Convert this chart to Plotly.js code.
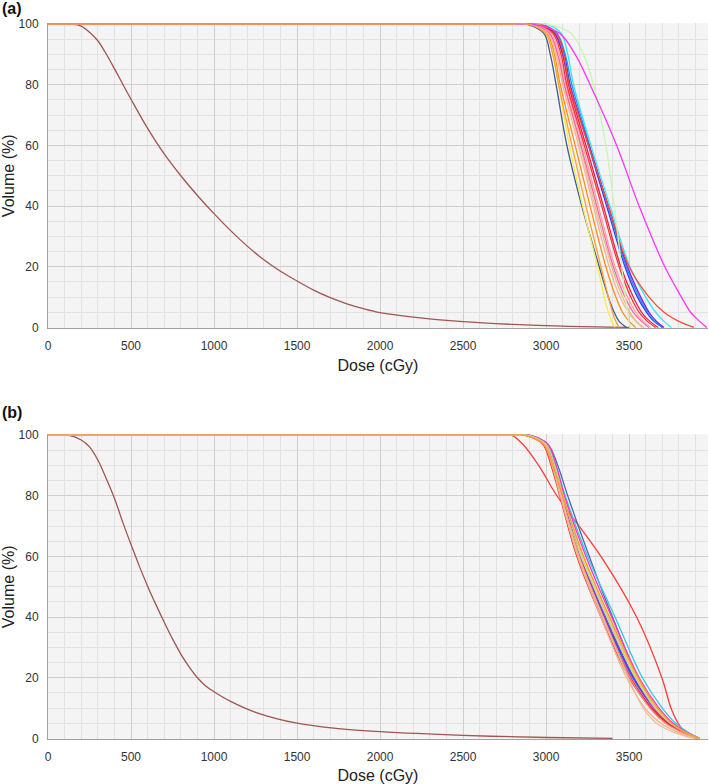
<!DOCTYPE html>
<html><head><meta charset="utf-8">
<script src="https://cdn.plot.ly/plotly-3.0.1.min.js"></script>
<style>html,body{margin:0;padding:0;background:#fff}#chart{width:709px;height:784px}</style>
</head><body><div id="chart"></div>
<script>
// Volume levels (%) at which each target DVH's dose is read
const volLevels = [100, 100, 100, 97, 90, 80, 60, 40, 20, 10, 5, 2, 0];

// ---- Panel (a): target DVH doses (cGy) at volLevels ----
const aNames  = ['steelblue','yellow','darkorange','salmon','khaki','hotpink','lightpink','red','crimson','blue','dodgerblue','blueviolet','cyan','redtail','palegreen','magenta','orange'];
const aColors = ['#3b5c9c','#f5ee4a','#ff8c1a','#ffb294','#d6c48e','#ff6699','#ff9eb0','#ff3333','#ee2244','#2a3cff','#2090ff','#7a20e0','#33e8f5','#ff4a3a','#c6f7b4','#ff33ff','#ffa033'];
const aDoses = [
  [0, 2800, 2880, 2985, 3025, 3060, 3125, 3215, 3320, 3375, 3410, 3440, 3485],
  [0, 2820, 2900, 3000, 3040, 3075, 3140, 3220, 3310, 3350, 3375, 3395, 3415],
  [0, 2820, 2900, 3005, 3050, 3085, 3175, 3265, 3360, 3420, 3460, 3500, 3540],
  [0, 2820, 2900, 3010, 3060, 3100, 3195, 3285, 3380, 3445, 3495, 3540, 3580],
  [0, 2840, 2920, 3020, 3070, 3110, 3205, 3295, 3395, 3460, 3505, 3545, 3590],
  [0, 2840, 2920, 3020, 3070, 3110, 3210, 3305, 3405, 3475, 3525, 3575, 3620],
  [0, 2850, 2930, 3030, 3080, 3120, 3220, 3315, 3415, 3490, 3540, 3585, 3630],
  [0, 2860, 2940, 3040, 3090, 3125, 3230, 3335, 3440, 3510, 3560, 3610, 3660],
  [0, 2870, 2950, 3050, 3100, 3135, 3240, 3345, 3450, 3525, 3575, 3625, 3675],
  [0, 2880, 2960, 3060, 3110, 3145, 3255, 3365, 3475, 3550, 3605, 3650, 3700],
  [0, 2890, 2970, 3065, 3115, 3155, 3262, 3372, 3482, 3560, 3612, 3655, 3705],
  [0, 2880, 2960, 3050, 3100, 3140, 3258, 3375, 3490, 3570, 3620, 3665, 3710],
  [0, 2920, 3000, 3090, 3130, 3165, 3270, 3385, 3505, 3600, 3660, 3710, 3755],
  [0, 2880, 2960, 3060, 3105, 3140, 3255, 3375, 3500, 3620, 3710, 3800, 3890],
  [0, 2920, 3000, 3150, 3225, 3285, 3360, 3410, 3455, 3478, 3490, 3498, 3510],
  [0, 2840, 2920, 3080, 3175, 3265, 3425, 3560, 3715, 3815, 3870, 3925, 3968],
  [0, 2810, 2890, 2995, 3040, 3075, 3155, 3240, 3330, 3375, 3400, 3420, 3440]
];
// Panel (a): organ-at-risk DVH (brown)
const aOarDose = [0, 150, 200, 250, 300, 350, 400, 450, 500, 600, 700, 800, 900, 1000, 1100, 1200, 1300, 1400, 1500, 1600, 1700, 1800, 1900, 2000, 2200, 2500, 2800, 3100, 3500];
const aOarVol  = [100, 100, 99.3, 97.3, 94.5, 90.2, 85.3, 80.2, 75.2, 65.6, 57.2, 50.0, 43.5, 37.5, 31.9, 26.8, 22.3, 18.5, 15.3, 12.3, 9.8, 7.8, 6.2, 4.9, 3.4, 1.9, 1.0, 0.4, 0];

// ---- Panel (b) ----
const bNames  = ['redtail','steelblue','cyan','deeppink','blue','dodgerblue','blueviolet','gold','khaki','red','crimson','salmon','peach','tan','olive','orange'];
const bColors = ['#ff3b3b','#4a6aa5','#30c8f0','#ff33cc','#2a4cff','#1e90ff','#7a2ae0','#ffc833','#d8c890','#ff2a2a','#e8204a','#ff8a70','#f5b08a','#e8c0a0','#c8d88a','#ff9a2a'];
const bDoses = [
  [0, 2720, 2790, 2860, 2955, 3065, 3330, 3545, 3697, 3752, 3795, 3840, 3900],
  [0, 2820, 2900, 3010, 3070, 3130, 3260, 3400, 3555, 3665, 3750, 3830, 3915],
  [0, 2810, 2890, 3000, 3060, 3115, 3250, 3415, 3580, 3700, 3780, 3855, 3925],
  [0, 2820, 2900, 3010, 3060, 3110, 3240, 3395, 3560, 3680, 3765, 3848, 3925],
  [0, 2800, 2880, 2995, 3050, 3100, 3210, 3360, 3530, 3655, 3748, 3840, 3920],
  [0, 2800, 2880, 2990, 3045, 3092, 3200, 3350, 3520, 3650, 3745, 3835, 3920],
  [0, 2810, 2890, 3000, 3050, 3098, 3205, 3352, 3525, 3650, 3745, 3835, 3915],
  [0, 2800, 2880, 2990, 3045, 3100, 3225, 3380, 3548, 3665, 3752, 3840, 3920],
  [0, 2790, 2870, 2990, 3040, 3088, 3210, 3372, 3540, 3655, 3748, 3838, 3915],
  [0, 2790, 2870, 2980, 3030, 3082, 3185, 3330, 3500, 3630, 3730, 3828, 3915],
  [0, 2800, 2880, 2985, 3035, 3088, 3195, 3340, 3510, 3638, 3736, 3832, 3915],
  [0, 2800, 2880, 2990, 3040, 3092, 3200, 3345, 3505, 3625, 3718, 3818, 3910],
  [0, 2790, 2870, 2985, 3035, 3085, 3190, 3330, 3485, 3595, 3690, 3795, 3900],
  [0, 2800, 2880, 2990, 3040, 3090, 3195, 3340, 3495, 3585, 3665, 3770, 3890],
  [0, 2810, 2890, 3000, 3052, 3102, 3215, 3365, 3538, 3660, 3748, 3838, 3918],
  [0, 2790, 2870, 2985, 3040, 3100, 3225, 3382, 3555, 3672, 3756, 3840, 3920]
];
const bOarDose = [0, 120, 200, 250, 300, 350, 400, 450, 500, 550, 600, 650, 700, 750, 800, 850, 900, 950, 1000, 1100, 1250, 1500, 1750, 2000, 2500, 3000, 3400];
const bOarVol  = [100, 100, 98.4, 96.1, 91.8, 85.8, 79.2, 71.3, 63.9, 56.8, 50.2, 44.1, 38.3, 32.8, 27.8, 23.6, 20.0, 17.3, 15.4, 12.2, 8.6, 5.0, 3.2, 2.2, 1.0, 0.3, 0];

const oarColor = '#a0554f';
const xTicks = [0, 500, 1000, 1500, 2000, 2500, 3000, 3500];
const yTicks = [0, 20, 40, 60, 80, 100];

const traces = [];
function addPanel(doses, colors, names, oarD, oarV, xa, ya) {
  traces.push({x: oarD, y: oarV, xaxis: xa, yaxis: ya, mode: 'lines', name: 'OAR',
    line: {color: oarColor, width: 1.3, shape: 'spline', smoothing: 1}});
  doses.forEach((d, i) => {
    traces.push({x: d, y: volLevels, xaxis: xa, yaxis: ya, mode: 'lines', name: names[i],
      line: {color: colors[i], width: 1.3, shape: 'spline', smoothing: 1}});
  });
}
addPanel(aDoses, aColors, aNames, aOarDose, aOarVol, 'x', 'y');
addPanel(bDoses, bColors, bNames, bOarDose, bOarVol, 'x2', 'y2');

const fontFam = 'Liberation Sans, Arial, Helvetica, sans-serif';
function xAxis(anchor) {
  return {anchor: anchor, domain: [0, 1], range: [0, 3975], tickmode: 'array', tickvals: xTicks,
    showgrid: true, gridcolor: '#cfcfcf', gridwidth: 1, zeroline: false,
    minor: {dtick: 100, tick0: 0, showgrid: true, gridcolor: '#e2e2e2', gridwidth: 1},
    showline: true, linecolor: '#a0a0a0', linewidth: 1, ticks: '', ticklabelstandoff: 6,
    tickfont: {family: fontFam, size: 12, color: '#333'},
    title: {text: 'Dose (cGy)', font: {family: fontFam, size: 16, color: '#222'}, standoff: 8}};
}
function yAxis(anchor, dom) {
  return {anchor: anchor, domain: dom, range: [-0.3, 100.25], tickmode: 'array', tickvals: yTicks,
    showgrid: true, gridcolor: '#cfcfcf', gridwidth: 1, zeroline: false,
    minor: {dtick: 5, tick0: 0, showgrid: true, gridcolor: '#e2e2e2', gridwidth: 1},
    showline: true, linecolor: '#a0a0a0', linewidth: 1, ticks: '', ticklabelstandoff: 6,
    tickfont: {family: fontFam, size: 12, color: '#333'},
    title: {text: 'Volume (%)', font: {family: fontFam, size: 16, color: '#222'}, standoff: 0}};
}

const layout = {
  width: 709, height: 784,
  margin: {l: 48, r: 1, t: 0, b: 0},
  paper_bgcolor: '#ffffff', plot_bgcolor: '#f4f4f4',
  showlegend: false,
  font: {family: fontFam, color: '#333', size: 12},
  xaxis: xAxis('y'),
  yaxis: yAxis('x', [0.5812, 0.9703]),
  xaxis2: xAxis('y2'),
  yaxis2: yAxis('x2', [0.0570, 0.4460]),
  annotations: [
    {text: '<b>(a)</b>', xref: 'paper', yref: 'paper', x: -0.072, y: 1.002, xanchor: 'left', yanchor: 'top',
     showarrow: false, font: {family: fontFam, size: 16, color: '#111'}},
    {text: '<b>(b)</b>', xref: 'paper', yref: 'paper', x: -0.072, y: 1 - 402/784, xanchor: 'left', yanchor: 'top',
     showarrow: false, font: {family: fontFam, size: 16, color: '#111'}}
  ]
};

Plotly.newPlot('chart', traces, layout, {displayModeBar: false, staticPlot: true});
</script>
</body></html>
